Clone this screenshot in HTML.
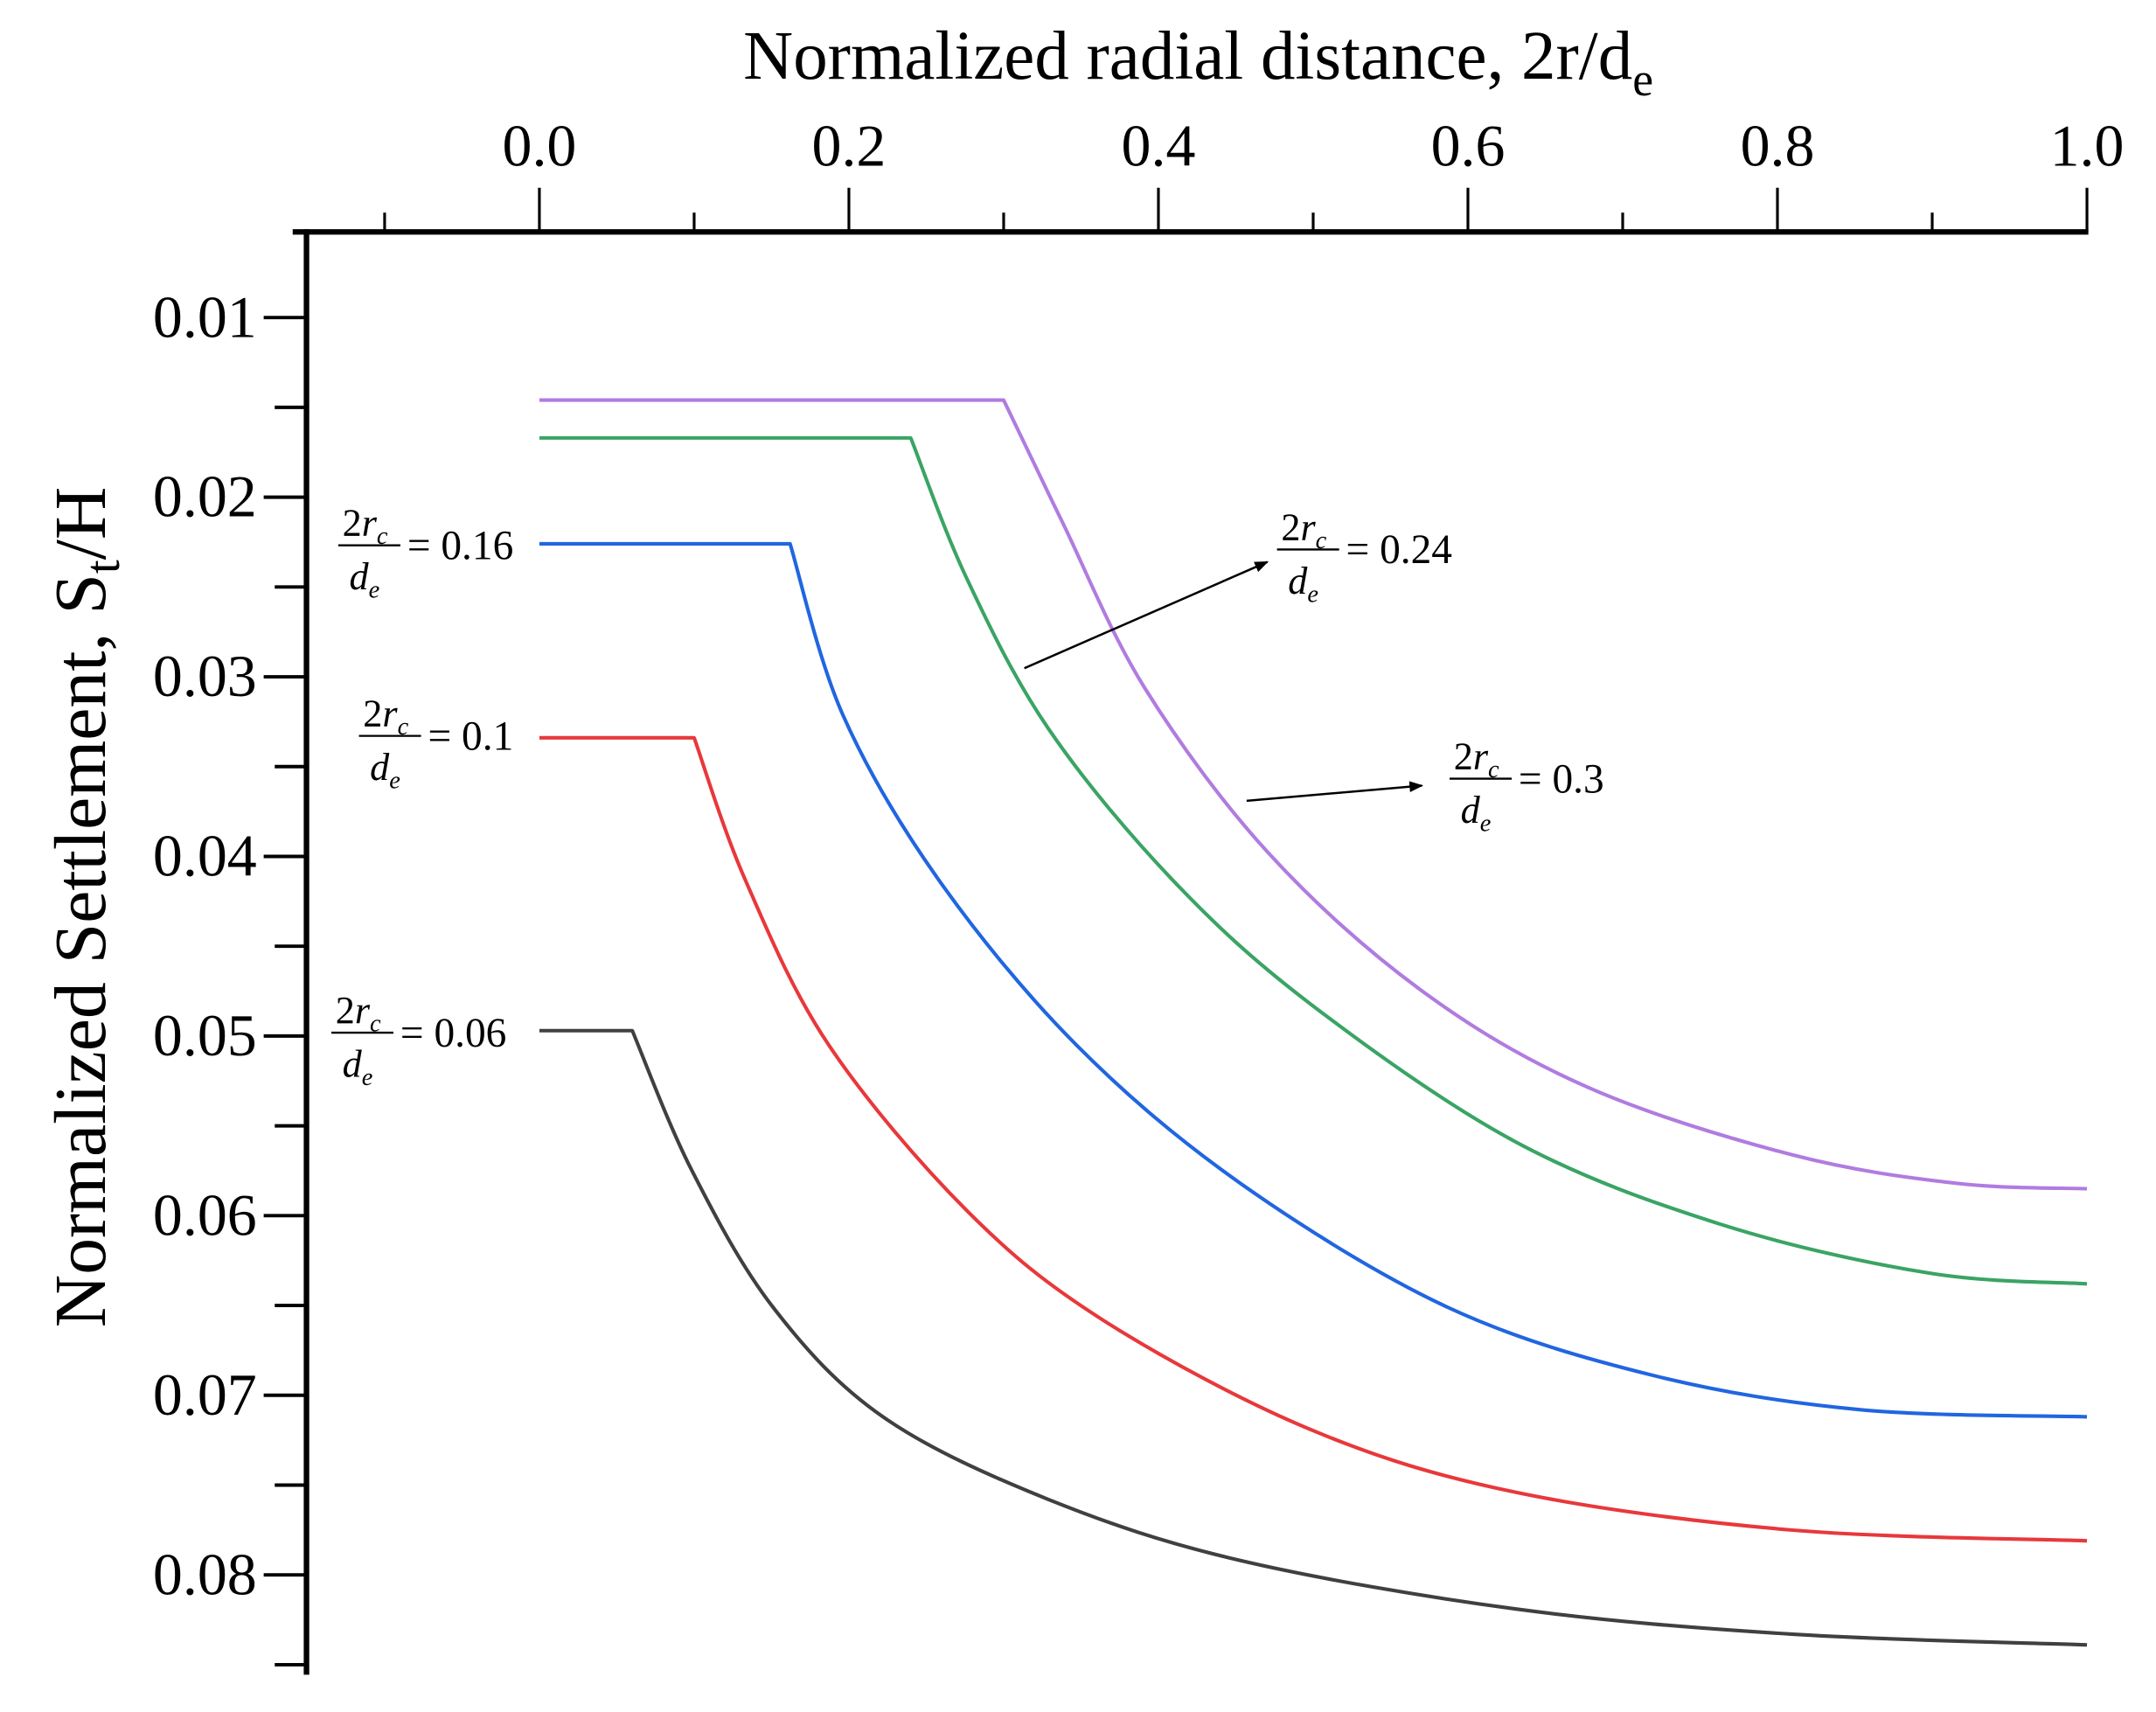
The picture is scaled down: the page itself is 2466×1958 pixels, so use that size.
<!DOCTYPE html>
<html><head><meta charset="utf-8"><style>
html,body{margin:0;padding:0;background:#fff;}
svg{display:block;font-family:"Liberation Serif",serif;}
</style></head>
<body>
<svg id="chart" width="2466" height="1958" viewBox="0 0 1561.7 1240" xmlns="http://www.w3.org/2000/svg">
<defs><marker id="ah" markerWidth="10" markerHeight="8" refX="9" refY="4" orient="auto" markerUnits="userSpaceOnUse"><path d="M0,0 L10,4 L0,8 Z" fill="#000"/></marker></defs>
<g id="axes"></g>
<g id="series"></g>
<g id="annot"></g>
</svg>
<script>
const xTicks = [0.0, 0.2, 0.4, 0.6, 0.8, 1.0];
const xTickLabels = ["0.0","0.2","0.4","0.6","0.8","1.0"];
const yTicks = [0.01,0.02,0.03,0.04,0.05,0.06,0.07,0.08];
const yTickLabels = ["0.01","0.02","0.03","0.04","0.05","0.06","0.07","0.08"];
const seriesNames = ["rc-0.06","rc-0.1","rc-0.16","rc-0.24","rc-0.3"];
const seriesColors = ["#404040","#e8383b","#2166e0","#3aa464","#b07ce0"];
const xBlack = [0, 0.06, 0.098, 0.151, 0.222, 0.329, 0.453, 0.631, 0.809, 1.0];
const yBlack = [0.0497, 0.0497, 0.0574, 0.0651, 0.0712, 0.0758, 0.0792, 0.0819, 0.0833, 0.0839];
const xRed = [0, 0.10, 0.133, 0.187, 0.276, 0.364, 0.498, 0.631, 0.809, 1.0];
const yRed = [0.0334, 0.0334, 0.0413, 0.0505, 0.0597, 0.0658, 0.0719, 0.0754, 0.0775, 0.0781];
const xBlue = [0, 0.162, 0.196, 0.258, 0.347, 0.453, 0.587, 0.72, 0.853, 1.0];
const yBlue = [0.0226, 0.0226, 0.0321, 0.0413, 0.0505, 0.0582, 0.0651, 0.0689, 0.0708, 0.0712];
const xGreen = [0, 0.24, 0.276, 0.329, 0.409, 0.498, 0.631, 0.764, 0.898, 1.0];
const yGreen = [0.0167, 0.0167, 0.0245, 0.0329, 0.0413, 0.0482, 0.0559, 0.0605, 0.0632, 0.0638];
const xPurple = [0, 0.30, 0.338, 0.391, 0.471, 0.569, 0.676, 0.809, 0.916, 1.0];
const yPurple = [0.0146, 0.0146, 0.0214, 0.0306, 0.0398, 0.0474, 0.0528, 0.0566, 0.0582, 0.0585];
const seriesX = [xBlack, xRed, xBlue, xGreen, xPurple];
const seriesY = [yBlack, yRed, yBlue, yGreen, yPurple];

const NS = "http://www.w3.org/2000/svg";
function sx(v){ return 390.7 + v*1121; }
function sy(v){ return 230 + (v-0.01)/0.01*130.1; }
function mk(tag, attrs, parent, text){
  const e = document.createElementNS(NS, tag);
  for (const k in attrs) e.setAttribute(k, attrs[k]);
  if (text !== undefined) e.textContent = text;
  parent.appendChild(e); return e;
}
const axes = document.getElementById('axes');
let el;
el = mk('line',{x1:212,y1:168,x2:sx(1)+1,y2:168,stroke:'#000','stroke-width':4},axes);


el = mk('line',{x1:222,y1:166,x2:222,y2:1213,stroke:'#000','stroke-width':4},axes);


for (let k=-1; k<=10; k++){
  const v = k/10;
  const major = k%2===0;
  el = mk('line',{x1:sx(v),y1:168,x2:sx(v),y2:major?136:154,stroke:'#000','stroke-width':2},axes);
  
  
}
xTicks.forEach((v,i)=>{
  el = mk('text',{x:sx(v),y:120,'font-size':43,'text-anchor':'middle'},axes,xTickLabels[i]);
  
  
});
for (let k=0; k<16; k++){
  const v = 0.01 + k*0.005;
  const major = k%2===0;
  el = mk('line',{x1:222,y1:sy(v),x2:major?191:199,y2:sy(v),stroke:'#000','stroke-width':2.5},axes);
  
  
}
yTicks.forEach((v,i)=>{
  el = mk('text',{x:186,y:sy(v)+14,'font-size':43,'text-anchor':'end'},axes,yTickLabels[i]);
  
  
});
el = mk('text',{x:868,y:57,'font-size':50,'text-anchor':'middle'},axes);


el.innerHTML = 'Normalized radial distance, 2r/d<tspan font-size="34" dy="12">e</tspan>';
el = mk('text',{x:0,y:0,'font-size':53,'text-anchor':'middle',transform:'translate(76,657) rotate(-90)'},axes);


el.innerHTML = 'Normalized Settlement, S<tspan font-size="36" dy="10">t</tspan><tspan dy="-10">/H</tspan>';

const sg = document.getElementById('series');
function smoothPath(pts){
  // straight flat segment, then Catmull-Rom through remaining points
  let d = 'M'+pts[0][0].toFixed(1)+','+pts[0][1].toFixed(1)+' L'+pts[1][0].toFixed(1)+','+pts[1][1].toFixed(1);
  for (let i=1;i<pts.length-1;i++){
    const p0 = i===1 ? pts[1] : pts[i-1];
    const p1 = pts[i], p2 = pts[i+1];
    const p3 = i+2<pts.length ? pts[i+2] : pts[i+1];
    const c1x = p1[0]+(p2[0]-p0[0])/6, c1y = p1[1]+(p2[1]-p0[1])/6;
    const c2x = p2[0]-(p3[0]-p1[0])/6, c2y = p2[1]-(p3[1]-p1[1])/6;
    d += ' C'+c1x.toFixed(1)+','+c1y.toFixed(1)+' '+c2x.toFixed(1)+','+c2y.toFixed(1)+' '+p2[0].toFixed(1)+','+p2[1].toFixed(1);
  }
  return d;
}
seriesX.forEach((xs,i)=>{
  const pts = xs.map((x,j)=>[sx(x), sy(seriesY[i][j])]);
  const p = mk('path',{d:smoothPath(pts),fill:'none',stroke:seriesColors[i],'stroke-width':2.6,'stroke-linejoin':'round'},sg);
  
  
});

const an = document.getElementById('annot');
function label(x, y, val, name){
  const g = mk('g',{},an);
  
  
  const t1 = mk('text',{x:x+3,y:y-7,'font-size':28},g);
  t1.innerHTML = '2<tspan font-style="italic">r</tspan><tspan font-style="italic" font-size="18" dy="6">c</tspan>';
  mk('line',{x1:x,y1:y,x2:x+45,y2:y,stroke:'#000','stroke-width':1.5},g);
  const t2 = mk('text',{x:x+8,y:y+32,'font-size':28},g);
  t2.innerHTML = '<tspan font-style="italic">d</tspan><tspan font-style="italic" font-size="18" dy="6">e</tspan>';
  mk('text',{x:x+50,y:y+10,'font-size':30},g,'= '+val);
}
label(245,395,'0.16','label-0.16');
label(260,533,'0.1','label-0.1');
label(240,748,'0.06','label-0.06');
label(925,398,'0.24','label-0.24');
label(1050,564,'0.3','label-0.3');
el = mk('line',{x1:742,y1:484,x2:918,y2:407,stroke:'#000','stroke-width':1.6,'marker-end':'url(#ah)'},an);


el = mk('line',{x1:903,y1:580,x2:1030,y2:569,stroke:'#000','stroke-width':1.6,'marker-end':'url(#ah)'},an);


</script>
</body></html>
